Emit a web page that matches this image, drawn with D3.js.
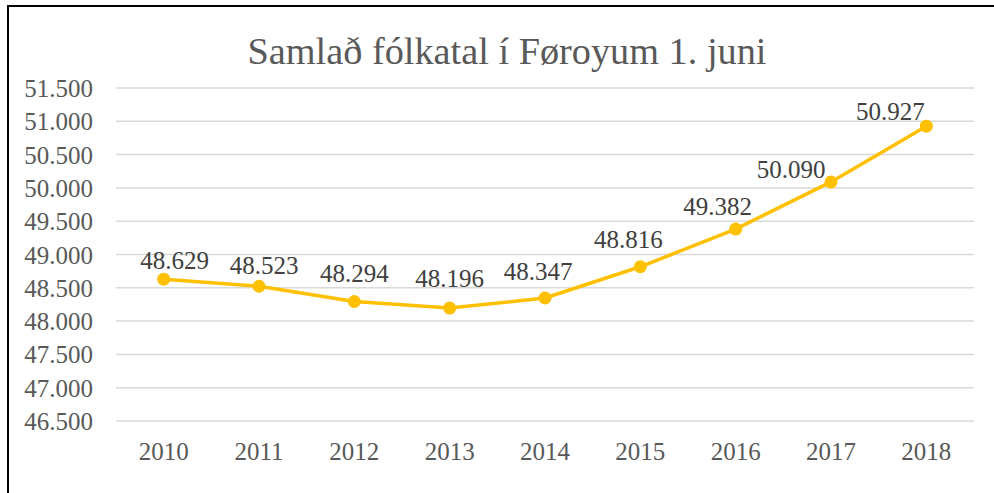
<!DOCTYPE html>
<html>
<head>
<meta charset="utf-8">
<script src="https://cdn.jsdelivr.net/npm/d3@7"></script>
<style>
  html, body { margin: 0; padding: 0; background: #fff; }
  svg { display: block; }
  text { font-family: "Liberation Serif", "DejaVu Serif", serif; }
</style>
</head>
<body>
<svg id="chart" width="994" height="493"></svg>
<script>
const title = "Samlað fólkatal í Føroyum 1. juni";
const years = ["2010", "2011", "2012", "2013", "2014", "2015", "2016", "2017", "2018"];
const population = [48629, 48523, 48294, 48196, 48347, 48816, 49382, 50090, 50927];
const yTicks = [46500, 47000, 47500, 48000, 48500, 49000, 49500, 50000, 50500, 51000, 51500];
// manual label offsets (px) relative to each point, as placed in the original
const labelDx = [11, 5, 0, 0, -7, -12, -18, -40, -36];
const labelDy = [-10, -12, -20, -21, -18, -19, -14, -4, -6];

const svg = d3.select("#chart");
const fmt = v => d3.format(",")(v).replace(/,/g, ".");

// frame (top + left border, cut at right/bottom)
svg.append("line").attr("x1", 7.5).attr("x2", 994).attr("y1", 6).attr("y2", 6)
  .attr("stroke", "#000").attr("stroke-width", 2);
svg.append("line").attr("x1", 8).attr("x2", 8).attr("y1", 5).attr("y2", 493)
  .attr("stroke", "#000").attr("stroke-width", 2);

const plotLeft = 116, plotRight = 974, plotTop = 88, plotBottom = 421;
const x = d3.scaleBand().domain(years).range([plotLeft, plotRight]);
const y = d3.scaleLinear().domain([46500, 51500]).range([plotBottom, plotTop]);

// title
const t = svg.append("text").attr("x", 507).attr("y", 64).attr("text-anchor", "middle")
  .attr("fill", "#595959").style("font-size", "100px").text(title);
const len = t.node().getComputedTextLength();
t.style("font-size", (100 * 519 / len).toFixed(2) + "px");

// gridlines
svg.append("g").selectAll("line").data(yTicks).join("line")
  .attr("x1", plotLeft).attr("x2", plotRight)
  .attr("y1", d => y(d)).attr("y2", d => y(d))
  .attr("stroke", "#d9d9d9").attr("stroke-width", 1.5);

// y axis labels
const yAxis = d3.axisLeft(y).tickValues(yTicks).tickFormat(fmt).tickSize(0).tickPadding(0);
const gy = svg.append("g").attr("transform", "translate(93,0)").call(yAxis);
gy.select(".domain").remove();
gy.selectAll("text").attr("fill", "#595959").style("font-size", "25px")
  .style("font-family", "Liberation Serif").attr("dy", "0.34em");

// x axis labels
const xAxis = d3.axisBottom(x).tickSize(0).tickPadding(0);
const gx = svg.append("g").attr("transform", "translate(0,451)").call(xAxis);
gx.select(".domain").remove();
gx.selectAll("text").attr("fill", "#595959").style("font-size", "25px")
  .style("font-family", "Liberation Serif").attr("dy", "0.34em");

const cx = (d, i) => x(years[i]) + x.bandwidth() / 2;

// line
const line = d3.line().x((d, i) => cx(d, i)).y(d => y(d));
svg.append("path").datum(population).attr("d", line)
  .attr("fill", "none").attr("stroke", "#FFC000").attr("stroke-width", 3.5)
  .attr("stroke-linejoin", "round");

// markers
svg.append("g").selectAll("circle").data(population).join("circle")
  .attr("cx", cx).attr("cy", d => y(d)).attr("r", 6.5).attr("fill", "#FFC000");

// data labels
svg.append("g").selectAll("text").data(population).join("text")
  .attr("x", (d, i) => cx(d, i) + labelDx[i])
  .attr("y", (d, i) => y(d) + labelDy[i])
  .attr("text-anchor", "middle").attr("fill", "#404040").style("font-size", "25px")
  .text(fmt);
</script>
</body>
</html>
